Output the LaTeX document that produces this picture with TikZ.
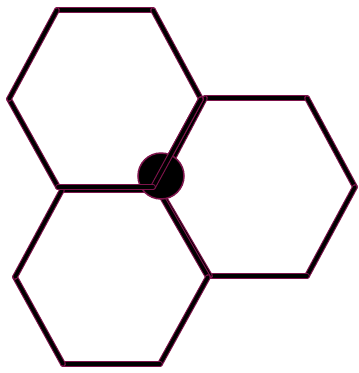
\documentclass[tikz,border=0pt]{standalone}
\definecolor{edgemag}{RGB}{125,20,75}
\begin{document}
\begin{tikzpicture}[x=1pt,y=-1pt,
  hexedge/.style={draw=edgemag,line width=1.1pt,double=black,double distance=3.6pt,line cap=round},
  hub/.style={circle,draw=edgemag,fill=black,line width=1.5pt,minimum size=46pt,inner sep=0pt}]
\useasboundingbox (0,0) rectangle (359,373);
% hexagon 1 (top left)
\coordinate (a1) at (57,10);  \coordinate (a2) at (153,10);
\coordinate (a3) at (201,99); \coordinate (a4) at (153,187);
\coordinate (a5) at (58,187); \coordinate (a6) at (9,99);
% hexagon 2 (right)
\coordinate (b1) at (205,98);  \coordinate (b2) at (307,98);
\coordinate (b3) at (355,187); \coordinate (b4) at (307,276);
\coordinate (b5) at (210,276); \coordinate (b6) at (158,187);
% hexagon 3 (bottom left)
\coordinate (c1) at (62,190);  \coordinate (c2) at (158,190);
\coordinate (c3) at (208,277); \coordinate (c4) at (160,364);
\coordinate (c5) at (63,364);  \coordinate (c6) at (15,277);
\foreach \h in {b,c,a}{
  \draw[hexedge] (\h1) -- (\h2);
  \draw[hexedge] (\h2) -- (\h3);
  \draw[hexedge] (\h3) -- (\h4);
  \draw[hexedge] (\h4) -- (\h5);
  \draw[hexedge] (\h5) -- (\h6);
  \draw[hexedge] (\h6) -- (\h1);
}
\node[hub] (hub) at (161,176) {};
% hexagon 1 edges lie over the hub
\draw[hexedge] (a3) -- (a4);
\draw[hexedge] (a4) -- (a5);
\end{tikzpicture}
\end{document}
